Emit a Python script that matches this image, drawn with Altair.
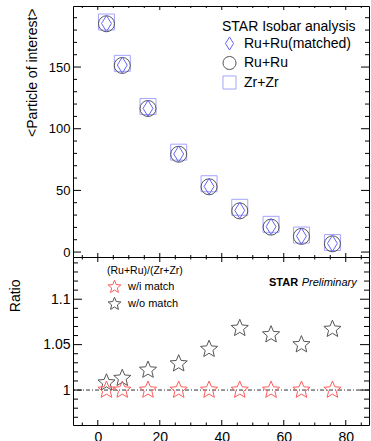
import altair as alt
import pandas as pd

FONT = "Liberation Sans"

# ---------------- data ----------------
cent = [2.8, 7.9, 16.2, 26.1, 35.9, 45.8, 55.9, 65.7, 75.7]
ru_matched = [185.3, 151.6, 116.5, 79.5, 53.2, 33.8, 20.6, 12.9, 7.0]
ru_ru = [185.1, 151.3, 116.4, 79.3, 52.9, 33.4, 20.2, 12.7, 6.7]
zr_zr = [186.5, 153.0, 118.0, 81.0, 55.4, 36.3, 22.5, 13.8, 7.7]
ratio_wi = [1.000, 1.000, 1.000, 1.000, 1.000, 1.000, 1.000, 1.000, 1.000]
ratio_wo = [1.008, 1.013, 1.022, 1.029, 1.045, 1.068, 1.061, 1.050, 1.067]

series_names = ["Ru+Ru(matched)", "Ru+Ru", "Zr+Zr"]
ratio_names = ["w/i match", "w/o match"]
prelim_words = ["STAR", "Preliminary"]

x_major = [0, 20, 40, 60, 80]
x_minor = [-5, 5, 10, 15, 25, 30, 35, 45, 50, 55, 65, 70, 75, 85]
top_major = [0, 50, 100, 150]
top_minor = [10, 20, 30, 40, 60, 70, 80, 90, 110, 120, 130, 140, 160, 170, 180, 190]
bot_major = [1.0, 1.05, 1.1]
bot_minor = [0.97, 0.98, 0.99, 1.01, 1.02, 1.03, 1.04, 1.06, 1.07, 1.08, 1.09,
             1.11, 1.12, 1.13, 1.14]

# ---------------- geometry / style ----------------
W = 296
H_TOP = 251
H_BOT = 168

DIAMOND = "M0,-1L0.62,0L0,1L-0.62,0Z"
STAR = ("M0,-1L0.265,-0.364L0.951,-0.309L0.428,0.139L0.588,0.809L0,0.45"
        "L-0.588,0.809L-0.428,0.139L-0.951,-0.309L-0.265,-0.364Z")

xscale = alt.Scale(domain=[-8, 87.5], nice=False, zero=False)
ytop = alt.Scale(domain=[-4, 199.5], nice=False, zero=False)
ybot = alt.Scale(domain=[0.9615, 1.1465], nice=False, zero=False)

ytop_axis = alt.Axis(
    values=top_major, ticks=False, domain=False, grid=False, labelFlush=False,
    labelFontSize=13, labelPadding=3, labelColor="black", labelFont=FONT,
    title="<Particle of interest>", titleFontSize=14, titleFontWeight="normal",
    titleColor="black", titleFont=FONT, titleAngle=270, titleAlign="right",
    titleBaseline="alphabetic", titleX=-36.7, titleY=2)

ybot_axis = alt.Axis(
    values=bot_major, format="~g", ticks=False, domain=False, grid=False, labelFlush=False,
    labelFontSize=14, labelPadding=3, labelColor="black", labelFont=FONT,
    title="Ratio", titleFontSize=14, titleFontWeight="normal",
    titleColor="black", titleFont=FONT, titleAngle=270, titleAlign="right",
    titleBaseline="alphabetic", titleX=-53.3, titleY=22)

xbot_axis = alt.Axis(
    values=x_major, format="d", ticks=False, domain=False, grid=False, labelFlush=False,
    labelFontSize=14, labelPadding=5, labelColor="black", labelFont=FONT, title=None)


def yticks(vals, scale, axis, length):
    base = alt.Chart(pd.DataFrame({"v": vals}))
    left = base.mark_rule(color="black", strokeWidth=1).encode(
        y=alt.Y("v:Q", scale=scale, axis=axis), x=alt.value(0), x2=alt.value(length))
    right = base.mark_rule(color="black", strokeWidth=1).encode(
        y=alt.Y("v:Q", scale=scale, axis=axis), x=alt.value(W), x2=alt.value(W - length))
    return [left, right]


def xticks(vals, axis, length, h):
    base = alt.Chart(pd.DataFrame({"v": vals}))
    top = base.mark_rule(color="black", strokeWidth=1).encode(
        x=alt.X("v:Q", scale=xscale, axis=axis), y=alt.value(0), y2=alt.value(length))
    bottom = base.mark_rule(color="black", strokeWidth=1).encode(
        x=alt.X("v:Q", scale=xscale, axis=axis), y=alt.value(h), y2=alt.value(h - length))
    return [top, bottom]


# ---------------- top panel ----------------
top_df = pd.DataFrame({
    "cent": cent + cent + cent,
    "val": zr_zr + ru_ru + ru_matched,
    "series": [series_names[2]] * len(cent) + [series_names[1]] * len(cent)
    + [series_names[0]] * len(cent),
})

top_legend = alt.Legend(
    orient="none", legendX=149, legendY=14, title="STAR Isobar analysis",
    titleFontSize=14, titleFontWeight="normal", titleColor="black", titleFont=FONT,
    labelFontSize=14, labelColor="black", labelFont=FONT, padding=0, rowPadding=0.5,
    titlePadding=2, labelOffset=7, symbolSize=170, symbolStrokeWidth=1,
)

top_points = alt.Chart(top_df).mark_point(filled=False, size=256, strokeWidth=1, opacity=1).encode(
    x=alt.X("cent:Q", scale=xscale, axis=None),
    y=alt.Y("val:Q", scale=ytop, axis=ytop_axis),
    color=alt.Color("series:N", scale=alt.Scale(domain=series_names,
                    range=["#6464f5", "#555555", "#a4a4ff"]), legend=top_legend),
    shape=alt.Shape("series:N", scale=alt.Scale(domain=series_names,
                    range=[DIAMOND, "circle", "square"]), legend=top_legend),
)

top = alt.layer(
    top_points,
    *yticks(top_major, ytop, ytop_axis, 8), *yticks(top_minor, ytop, ytop_axis, 4),
    *xticks(x_major, None, 4, H_TOP), *xticks(x_minor, None, 2, H_TOP),
).properties(width=W, height=H_TOP)

# ---------------- bottom panel ----------------
bot_df = pd.DataFrame({
    "cent": cent + cent,
    "ratio": ratio_wo + ratio_wi,
    "match": [ratio_names[1]] * len(cent) + [ratio_names[0]] * len(cent),
})

bot_legend = alt.Legend(
    orient="none", legendX=34, legendY=9, title="(Ru+Ru)/(Zr+Zr)",
    titleFontSize=10.5, titleFontWeight="normal", titleColor="black", titleFont=FONT,
    labelFontSize=11, labelColor="black", labelFont=FONT, padding=0, rowPadding=0,
    titlePadding=3, labelOffset=6, symbolSize=180, symbolStrokeWidth=1,
)

unity = alt.Chart(pd.DataFrame({"u": [1.0]})).mark_rule(
    color="#333333", strokeWidth=1, strokeDash=[4, 2, 1, 2]).encode(
    y=alt.Y("u:Q", scale=ybot, axis=ybot_axis))

bot_points = alt.Chart(bot_df).mark_point(filled=False, size=324, strokeWidth=1, opacity=1).encode(
    x=alt.X("cent:Q", scale=xscale, axis=xbot_axis),
    y=alt.Y("ratio:Q", scale=ybot, axis=ybot_axis),
    color=alt.Color("match:N", scale=alt.Scale(domain=ratio_names,
                    range=["#ff5a5a", "#555555"]), legend=bot_legend),
    shape=alt.Shape("match:N", scale=alt.Scale(domain=ratio_names,
                    range=[STAR, STAR]), legend=bot_legend),
)

star_txt = alt.Chart(pd.DataFrame({"t": [prelim_words[0]]})).mark_text(
    align="left", baseline="middle", fontSize=11, fontWeight="bold", font=FONT,
    color="black").encode(text="t:N", x=alt.value(196), y=alt.value(25.7))
prelim_txt = alt.Chart(pd.DataFrame({"t": [prelim_words[1]]})).mark_text(
    align="left", baseline="middle", fontSize=11, fontStyle="italic", font=FONT,
    color="black").encode(text="t:N", x=alt.value(228.7), y=alt.value(25.7))

bottom = alt.layer(
    unity, bot_points, star_txt, prelim_txt,
    *yticks(bot_major, ybot, ybot_axis, 9), *yticks(bot_minor, ybot, ybot_axis, 5),
    *xticks(x_major, xbot_axis, 5, H_BOT), *xticks(x_minor, xbot_axis, 2.5, H_BOT),
).properties(width=W, height=H_BOT)

chart = alt.vconcat(top, bottom, spacing=0, bounds="flush").resolve_scale(
    color="independent", shape="independent"
).properties(
    padding={"left": 8, "top": 5, "right": 0, "bottom": 0},
    background="white",
).configure_view(stroke="black", strokeWidth=1)

chart.save("out.html", embed_options={"renderer": "svg", "actions": False})
